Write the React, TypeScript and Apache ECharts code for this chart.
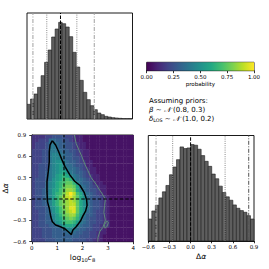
import React, { useEffect, useRef } from 'react';
import * as echarts from 'echarts';

// ---------------- data ----------------
const logcRange = [0, 4];
const dalphaRange = [-0.6, 0.9];
const logcTickStep = 1;
const dalphaTickStep = 0.3;
const colorbarTickStep = 0.25;

// histogram of log10 c8 (30 bins over 0..4), relative heights
const logcHistCounts = [44, 60, 75, 95, 130, 170, 207, 246, 270, 290, 286, 276, 247, 200, 156, 116, 80, 58, 40, 28, 18, 13, 8, 6, 4, 3, 2, 1, 1, 1];
const logcHistMax = 318;
// histogram of delta alpha (30 bins over -0.6..0.9)
const dalphaHistCounts = [65, 89, 106, 128, 146, 165, 197, 220, 242, 280, 275, 277, 287, 285, 273, 254, 237, 222, 199, 185, 163, 144, 131, 121, 107, 97, 90, 85, 75, 65];
const dalphaHistMax = 314;

// quantile lines: 2.5%, 16%, 50%, 84%, 97.5%
const logcQuantiles = [0.225, 0.75, 1.27, 1.89, 2.55];
const dalphaQuantiles = [-0.49, -0.254, 0.0, 0.49, 0.825];

// 2D histogram, rows from top (delta alpha = 0.9) to bottom, 30 columns over log c 0..4
// each char: level 0..20 -> probability level/20
const LEVELS = '0123456789ABCDEFGHIJK';
const heatRows = [
  '333344555544322111111111111111',
  '334447766554322111111111111111',
  '344457876655432211111111111111',
  '344458876655432211111111111111',
  '444558887665543221111111111111',
  '444558998766543221111111111111',
  '444558999766554221111111111111',
  '4445589AA876654322111111111111',
  '4455589AB977655422111111111111',
  '4455589ABA87765432211111111111',
  '4455689ABCA8766542211111111111',
  '4455689BCDC9876543221111111111',
  '455568ABCEED977654221111111111',
  '455579ACDEFFD97665322111111111',
  '455579ACDFGGFC8765432211111111',
  '455679BCEFHHGC9765542211111111',
  '455679BDEGIKIEC876543211111111',
  '455679BDFHIJHFCA76554321111111',
  '455679BDFGHIHFCA86554321111111',
  '455669BDFGHIIFCA86554321111111',
  '455569ACEGHJJFCA86554321111111',
  '445568ACEFHIJFCA76544321111111',
  '4455679BDFGHHEB866544321111111',
  '4455669BCEFGFDA765544321111111',
  '4455668ABDEEDB8765544331111111',
  '445556679BCCB87665443331111111',
  '444555666799876655443211111111',
  '444555666678766554432211111111',
  '444555666666665554432111111111',
  '444455566666555544322111111111',
];

// contours [log10 c8, delta alpha]
const blackContour = [
  [0.81, 0.82], [0.94, 0.76], [1.06, 0.665], [1.19, 0.55], [1.31, 0.455], [1.5, 0.34], [1.69, 0.25],
  [1.9, 0.19], [2.07, 0.09], [2.16, -0.01], [2.18, -0.09], [2.12, -0.17], [2.01, -0.24], [1.92, -0.31],
  [1.75, -0.39], [1.62, -0.435], [1.56, -0.5], [1.44, -0.46], [1.31, -0.42], [1.13, -0.39], [0.94, -0.365],
  [0.81, -0.32], [0.75, -0.25], [0.69, -0.13], [0.62, -0.04], [0.6, 0.1], [0.6, 0.245], [0.65, 0.385],
  [0.69, 0.525], [0.69, 0.665], [0.72, 0.76], [0.81, 0.82],
];
const grayContour = [
  [1.68, 0.9], [1.75, 0.78], [1.87, 0.68], [1.97, 0.6], [2.09, 0.49], [2.21, 0.4], [2.34, 0.3], [2.53, 0.21],
  [2.65, 0.14], [2.78, 0.07], [2.9, 0.0], [2.87, -0.09], [2.84, -0.19], [2.9, -0.3], [2.8, -0.4],
  [2.69, -0.45], [2.61, -0.54], [2.6, -0.6],
];
const grayLoop = [
  [2.87, -0.36], [2.95, -0.31], [3.02, -0.33], [2.96, -0.39], [2.88, -0.41], [2.87, -0.36],
];

const colorbarRange = [0, 1];

// ---------------- helpers ----------------
const VIRIDIS = ['#440154', '#482475', '#414487', '#355f8d', '#2a788e', '#21918c', '#22a884', '#44bf70', '#7ad151', '#bddf26', '#fde725'];
function hexToRgb(h: string) {
  return [parseInt(h.slice(1, 3), 16), parseInt(h.slice(3, 5), 16), parseInt(h.slice(5, 7), 16)];
}
function viridis(t: number) {
  const v = Math.max(0, Math.min(1, t)) * 10;
  const i = Math.min(9, Math.floor(v));
  const f = v - i;
  const a = hexToRgb(VIRIDIS[i]);
  const b = hexToRgb(VIRIDIS[i + 1]);
  const c = a.map((x, k) => Math.round(x + (b[k] - x) * f));
  return `rgb(${c[0]},${c[1]},${c[2]})`;
}
const fmtNum = (d: number) => (v: number) => {
  const s = (Math.abs(v) < 1e-9 ? 0 : v).toFixed(d);
  return s.replace('-', '\u2212');
};

const FONT = 'DejaVu Sans';
const QSTYLE: any[] = [
  { type: [4, 1.5, 1, 1.5] },
  { type: [1, 1.2] },
  { type: [3.5, 1.5] },
  { type: [1, 1.2] },
  { type: [4, 1.5, 1, 1.5] },
];

export default function App() {
  const ref = useRef<HTMLDivElement>(null);
  useEffect(() => {
    if (!ref.current) return;
    const chart = echarts.init(ref.current, undefined, { renderer: 'svg' });

    const nx = heatRows[0].length;
    const ny = heatRows.length;
    const hx = (logcRange[1] - logcRange[0]) / nx;
    const hy = (dalphaRange[1] - dalphaRange[0]) / ny;
    const heatData: number[][] = [];
    heatRows.forEach((row, j) => {
      for (let i = 0; i < row.length; i++) {
        heatData.push([logcRange[0] + i * hx, dalphaRange[1] - (j + 1) * hy, LEVELS.indexOf(row[i]) / 20]);
      }
    });

    const bwL = (logcRange[1] - logcRange[0]) / logcHistCounts.length;
    const bwA = (dalphaRange[1] - dalphaRange[0]) / dalphaHistCounts.length;
    const logcBars = logcHistCounts.map((c, i) => [logcRange[0] + i * bwL, c]);
    const daBars = dalphaHistCounts.map((c, i) => [dalphaRange[0] + i * bwA, c]);

    const barSeries = (xi: number, data: number[][], bw: number) => ({
      type: 'custom',
      xAxisIndex: xi,
      yAxisIndex: xi,
      clip: true,
      data,
      renderItem: (params: any, api: any) => {
        const x0 = api.value(0);
        const c = api.value(1);
        const p0 = api.coord([x0, c]);
        const p1 = api.coord([x0 + bw, 0]);
        return {
          type: 'rect',
          shape: { x: p0[0], y: p0[1], width: p1[0] - p0[0], height: p1[1] - p0[1] },
          style: { fill: '#5e5e5e', stroke: '#1c1c1c', lineWidth: 0.6 },
        };
      },
    });

    const qLines = (xi: number, qs: number[], ymax: number, colors: string[]) =>
      qs.map((q, k) => ({
        type: 'line',
        xAxisIndex: xi,
        yAxisIndex: xi,
        data: [[q, 0], [q, ymax]],
        showSymbol: false,
        symbol: 'none',
        z: 5,
        lineStyle: { color: colors[k], width: 1, type: QSTYLE[k].type },
      }));

    const axisLabelStyle = { fontSize: 5.5, color: '#000', fontFamily: FONT };
    const subRich = {
      a: { fontSize: 7.5, fontFamily: FONT, color: '#000', lineHeight: 10 },
      i: { fontSize: 7.5, fontFamily: FONT, color: '#000', fontStyle: 'italic', lineHeight: 10 },
      s: { fontSize: 5.2, fontFamily: FONT, color: '#000', lineHeight: 6, verticalAlign: 'bottom' },
    };

    const option: any = {
      animation: false,
      grid: [
        { left: 27, top: 13, width: 105.5, height: 106, show: true, borderColor: '#000', borderWidth: 0.9, backgroundColor: 'transparent' },
        { left: 27, top: 135, width: 106.3, height: 106.7, show: true, borderColor: '#000', borderWidth: 0.9, backgroundColor: 'transparent' },
        { left: 148.3, top: 135.5, width: 105.7, height: 105.3, show: true, borderColor: '#000', borderWidth: 0.9, backgroundColor: 'transparent' },
        { left: 146.7, top: 62.3, width: 107.3, height: 8.4, show: true, borderColor: '#000', borderWidth: 0.9, backgroundColor: 'transparent' },
      ],
      xAxis: [
        { gridIndex: 0, type: 'value', min: logcRange[0], max: logcRange[1], axisLine: { show: false }, axisTick: { show: false }, axisLabel: { show: false }, splitLine: { show: false } },
        {
          gridIndex: 1, type: 'value', min: logcRange[0], max: logcRange[1], interval: logcTickStep,
          axisLine: { show: true, onZero: false, lineStyle: { color: '#000', width: 0.9 } },
          axisTick: { show: true, length: 2.5, lineStyle: { color: '#000', width: 0.8 } },
          axisLabel: { ...axisLabelStyle, margin: 3, formatter: fmtNum(0) },
          splitLine: { show: false },
          name: '{a|log}{s|10}{i|c}{s|8}', nameLocation: 'middle', nameGap: 11,
          nameTextStyle: { rich: subRich },
        },
        {
          gridIndex: 2, type: 'value', min: dalphaRange[0], max: dalphaRange[1], interval: dalphaTickStep,
          axisLine: { show: true, onZero: false, lineStyle: { color: '#000', width: 0.9 } },
          axisTick: { show: true, length: 2.5, lineStyle: { color: '#000', width: 0.8 } },
          axisLabel: { ...axisLabelStyle, margin: 3, formatter: fmtNum(1) },
          splitLine: { show: false },
          name: '{a|Δ}{i|α}', nameLocation: 'middle', nameGap: 11,
          nameTextStyle: { rich: subRich },
        },
        {
          gridIndex: 3, type: 'value', min: colorbarRange[0], max: colorbarRange[1], interval: colorbarTickStep,
          axisLine: { show: true, onZero: false, lineStyle: { color: '#000', width: 0.9 } },
          axisTick: { show: true, length: 2.5, lineStyle: { color: '#000', width: 0.8 } },
          axisLabel: { ...axisLabelStyle, margin: 3, formatter: fmtNum(2) },
          splitLine: { show: false },
          name: 'probability', nameLocation: 'middle', nameGap: 10,
          nameTextStyle: { fontSize: 5.5, color: '#000', fontFamily: FONT },
        },
      ],
      yAxis: [
        { gridIndex: 0, type: 'value', min: 0, max: logcHistMax, show: false },
        {
          gridIndex: 1, type: 'value', min: dalphaRange[0], max: dalphaRange[1], interval: dalphaTickStep,
          axisLine: { show: true, onZero: false, lineStyle: { color: '#000', width: 0.9 } },
          axisTick: { show: true, length: 2.5, lineStyle: { color: '#000', width: 0.8 } },
          axisLabel: { ...axisLabelStyle, margin: 5.5, formatter: fmtNum(1) },
          splitLine: { show: false },
          name: '{a|Δ}{i|α}', nameLocation: 'middle', nameGap: 18, nameRotate: 90,
          nameTextStyle: { rich: subRich },
        },
        { gridIndex: 2, type: 'value', min: 0, max: dalphaHistMax, show: false },
        { gridIndex: 3, type: 'value', min: 0, max: 1, show: false },
      ],
      series: [
        barSeries(0, logcBars, bwL),
        ...qLines(0, logcQuantiles, logcHistMax, ['#a0a0a0', '#8a8a8a', '#000', '#8a8a8a', '#a0a0a0']),
        {
          type: 'custom', xAxisIndex: 1, yAxisIndex: 1, clip: true, data: heatData,
          renderItem: (params: any, api: any) => {
            const x0 = api.value(0), y0 = api.value(1), v = api.value(2);
            const p0 = api.coord([x0, y0 + hy]);
            const p1 = api.coord([x0 + hx, y0]);
            return {
              type: 'rect',
              shape: { x: p0[0], y: p0[1], width: p1[0] - p0[0] + 0.4, height: p1[1] - p0[1] + 0.4 },
              style: { fill: viridis(v) },
            };
          },
        },
        {
          type: 'line', xAxisIndex: 1, yAxisIndex: 1, data: grayContour, showSymbol: false, symbol: 'none', z: 3,
          lineStyle: { color: '#5f8a78', width: 1 },
        },
        {
          type: 'line', xAxisIndex: 1, yAxisIndex: 1, data: grayLoop, showSymbol: false, symbol: 'none', z: 3,
          lineStyle: { color: '#5f8a78', width: 1 },
        },
        {
          type: 'line', xAxisIndex: 1, yAxisIndex: 1, data: blackContour, showSymbol: false, symbol: 'none', z: 4,
          lineStyle: { color: '#000', width: 1.5 },
        },
        {
          type: 'line', xAxisIndex: 1, yAxisIndex: 1, data: [[logcQuantiles[2], dalphaRange[0]], [logcQuantiles[2], dalphaRange[1]]],
          showSymbol: false, symbol: 'none', z: 5, lineStyle: { color: '#000', width: 1.1, type: [3.5, 2] },
        },
        {
          type: 'line', xAxisIndex: 1, yAxisIndex: 1, data: [[logcRange[0], dalphaQuantiles[2]], [logcRange[1], dalphaQuantiles[2]]],
          showSymbol: false, symbol: 'none', z: 5, lineStyle: { color: '#000', width: 1.1, type: [3.5, 2] },
        },
        barSeries(2, daBars, bwA),
        ...qLines(2, dalphaQuantiles, dalphaHistMax, ['#a0a0a0', '#8a8a8a', '#000', '#8a8a8a', '#555']),
        {
          type: 'custom', xAxisIndex: 3, yAxisIndex: 3, data: [[colorbarRange[0], colorbarRange[1]]],
          renderItem: (params: any, api: any) => {
            const p0 = api.coord([api.value(0), 1]);
            const p1 = api.coord([api.value(1), 0]);
            return {
              type: 'rect',
              shape: { x: p0[0], y: p0[1], width: p1[0] - p0[0], height: p1[1] - p0[1] },
              style: {
                fill: new echarts.graphic.LinearGradient(0, 0, 1, 0,
                  VIRIDIS.map((c, k) => ({ offset: k / (VIRIDIS.length - 1), color: c }))),
              },
            };
          },
        },
      ],
      graphic: [
        {
          type: 'text', x: 149, y: 101,
          style: { text: 'Assuming priors:', fontSize: 7, fontFamily: FONT, fill: '#000', verticalAlign: 'middle' },
        },
        {
          type: 'text', x: 149, y: 110,
          style: {
            text: '{i|β}{n| ∼ }{c|𝒩}{n| (0.8, 0.3)}', verticalAlign: 'middle', fontSize: 7, fontFamily: FONT, fill: '#000',
            rich: {
              n: { fontSize: 7, fontFamily: FONT, fill: '#000', lineHeight: 9 },
              i: { fontSize: 7, fontFamily: FONT, fill: '#000', fontStyle: 'italic', lineHeight: 9 },
              c: { fontSize: 7, fontFamily: FONT, fill: '#000', fontStyle: 'italic', lineHeight: 9 },
            },
          },
        },
        {
          type: 'text', x: 149, y: 118.5,
          style: {
            text: '{i|δ}{s|LOS}{n| ∼ }{c|𝒩}{n| (1.0, 0.2)}', verticalAlign: 'middle', fontSize: 7, fontFamily: FONT, fill: '#000',
            rich: {
              n: { fontSize: 7, fontFamily: FONT, fill: '#000', lineHeight: 9 },
              i: { fontSize: 7, fontFamily: FONT, fill: '#000', fontStyle: 'italic', lineHeight: 9 },
              c: { fontSize: 7, fontFamily: FONT, fill: '#000', fontStyle: 'italic', lineHeight: 9 },
              s: { fontSize: 4.8, fontFamily: FONT, fill: '#000', lineHeight: 5, verticalAlign: 'bottom' },
            },
          },
        },
      ],
    };
    chart.setOption(option);
    return () => chart.dispose();
  }, []);
  return <div ref={ref} style={{ position: 'fixed', left: 0, top: 0, width: 269, height: 269, background: '#fff' }} />;
}
